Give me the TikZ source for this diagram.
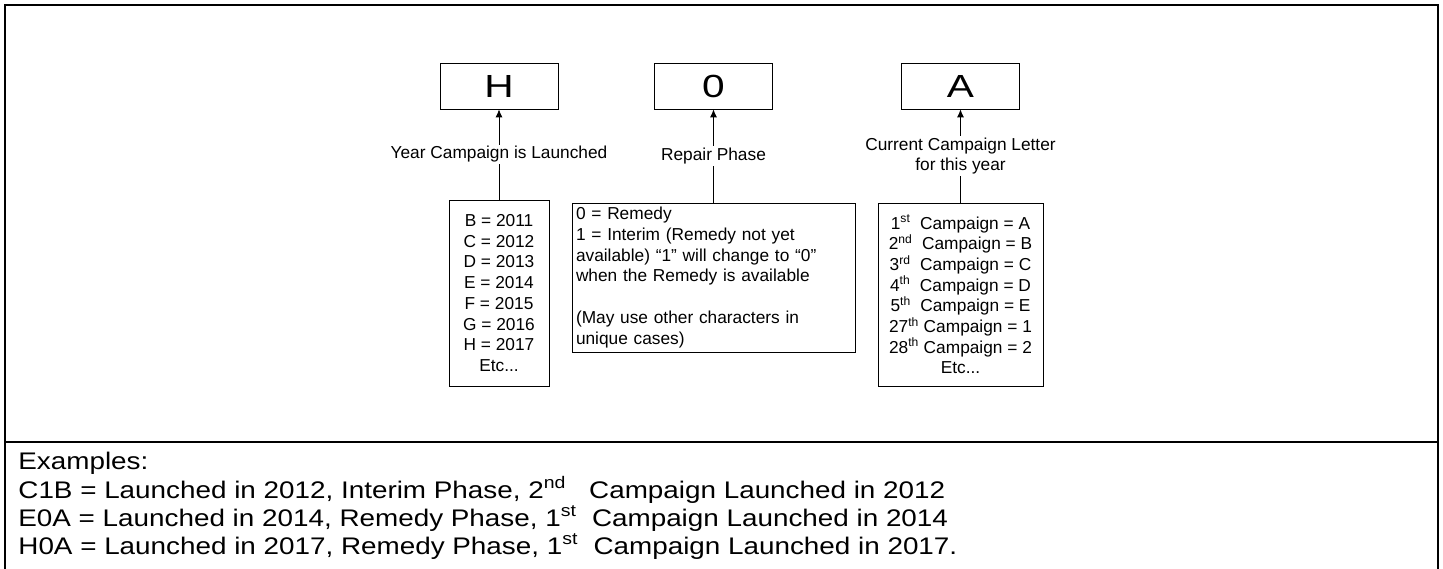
\documentclass[tikz,border=0pt]{standalone}
\usepackage{fontspec}
\setmainfont{Liberation Sans}
\newfontfamily\widefont{Liberation Sans}[FakeStretch=1.27]
\newfontfamily\exfont{Liberation Sans}[FakeStretch=1.16]
\usetikzlibrary{arrows.meta}
\begin{document}
\begin{tikzpicture}[x=1pt, y=-1pt, line width=0.8pt,
  every node/.style={inner sep=0pt, font=\fontsize{17.3}{20.7}\selectfont},
  code/.style={draw, minimum width=118pt, minimum height=46pt, font=\widefont\fontsize{32}{38}\selectfont},
  key/.style={draw, align=center},
  tag/.style={fill=white, align=center, inner sep=1.5pt},
  ex/.style={anchor=base west, font=\exfont\fontsize{24}{28}\selectfont}]
\useasboundingbox (0, 0) rectangle (1443, 569);
\draw[line width=1.7pt] (5, 5) rectangle (1438, 600);
\draw[line width=1.7pt] (5, 442) -- (1438, 442);
\node[code] (year) at (499, 86) {H};
\node[code] (phase) at (713.5, 86) {0};
\node[code] (letter) at (960.5, 86) {A};
\node[key, minimum width=100pt, minimum height=186pt] (years) at (499, 293) {B = 2011\\C = 2012\\D = 2013\\E = 2014\\F = 2015\\G = 2016\\H = 2017\\Etc...};
\node[key, align=left, text width=275pt, inner sep=4pt, minimum height=149pt] (phases) at (713.5, 277.5) {0 = Remedy\\1 = Interim (Remedy not yet\\available) “1” will change to “0”\\when the Remedy is available\\~\\(May use other characters in\\unique cases)};
\node[key, minimum width=165pt, minimum height=183pt] (letters) at (960.5, 294.5) {1\textsuperscript{st}\ \ Campaign = A\\2\textsuperscript{nd}\ \ Campaign = B\\3\textsuperscript{rd}\ \ Campaign = C\\4\textsuperscript{th}\ \ Campaign = D\\5\textsuperscript{th}\ \ Campaign = E\\27\textsuperscript{th} Campaign = 1\\28\textsuperscript{th} Campaign = 2\\Etc...};
\draw[-{Latex[length=8pt, width=7pt]}] (years) -- node[tag] {Year Campaign is Launched} (year);
\draw[-{Latex[length=8pt, width=7pt]}] (phases) -- node[tag] {Repair Phase} (phase);
\draw[-{Latex[length=8pt, width=7pt]}] (letters) -- node[tag] {Current Campaign Letter\\for this year} (letter);
\node[ex] (ex0) at (18, 469) {Examples:};
\node[ex] (ex1) at (18, 498) {C1B = Launched in 2012, Interim Phase, 2\textsuperscript{nd}\ \ \ Campaign Launched in 2012};
\node[ex] (ex2) at (18, 526) {E0A = Launched in 2014, Remedy Phase, 1\textsuperscript{st}\ \ Campaign Launched in 2014};
\node[ex] (ex3) at (18, 554) {H0A = Launched in 2017, Remedy Phase, 1\textsuperscript{st}\ \ Campaign Launched in 2017.};
\end{tikzpicture}
\end{document}
